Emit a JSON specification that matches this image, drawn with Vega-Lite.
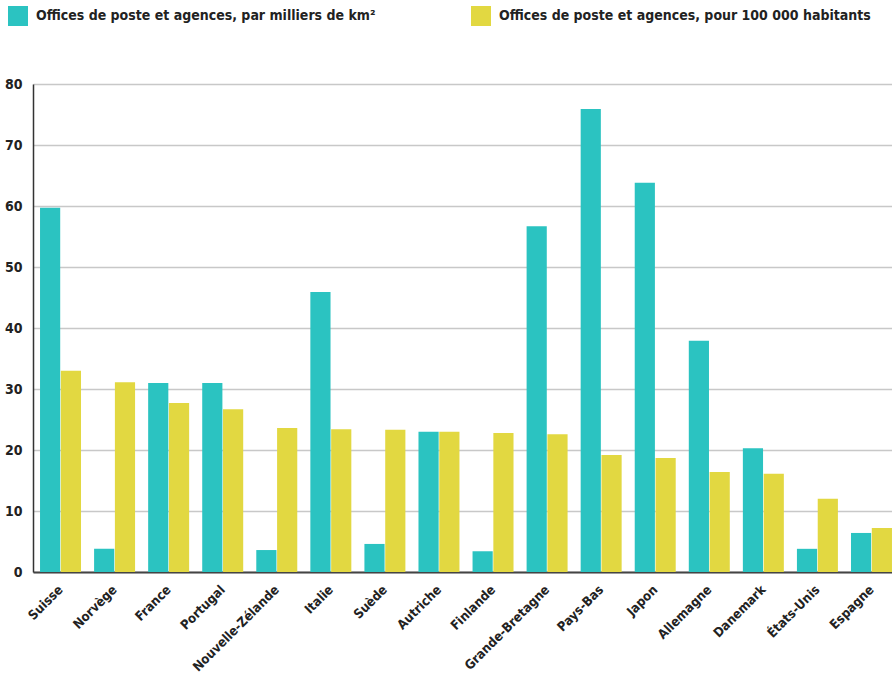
{
  "$schema": "https://vega.github.io/schema/vega-lite/v6.json",
  "width": 866,
  "height": 488,
  "autosize": {"type": "none"},
  "padding": {"left": 33, "top": 84, "right": 0, "bottom": 105},
  "background": "white",
  "config": {
    "view": {"stroke": null},
    "font": "DejaVu Sans Condensed"
  },
  "data": {
    "values": [
      {"pays": "Suisse", "serie": "Offices de poste et agences, par milliers de km²", "valeur": 59.7},
      {"pays": "Suisse", "serie": "Offices de poste et agences, pour 100 000 habitants", "valeur": 33.0},
      {"pays": "Norvège", "serie": "Offices de poste et agences, par milliers de km²", "valeur": 3.8},
      {"pays": "Norvège", "serie": "Offices de poste et agences, pour 100 000 habitants", "valeur": 31.1},
      {"pays": "France", "serie": "Offices de poste et agences, par milliers de km²", "valeur": 31.0},
      {"pays": "France", "serie": "Offices de poste et agences, pour 100 000 habitants", "valeur": 27.7},
      {"pays": "Portugal", "serie": "Offices de poste et agences, par milliers de km²", "valeur": 31.0},
      {"pays": "Portugal", "serie": "Offices de poste et agences, pour 100 000 habitants", "valeur": 26.7},
      {"pays": "Nouvelle-Zélande", "serie": "Offices de poste et agences, par milliers de km²", "valeur": 3.6},
      {"pays": "Nouvelle-Zélande", "serie": "Offices de poste et agences, pour 100 000 habitants", "valeur": 23.6},
      {"pays": "Italie", "serie": "Offices de poste et agences, par milliers de km²", "valeur": 45.9},
      {"pays": "Italie", "serie": "Offices de poste et agences, pour 100 000 habitants", "valeur": 23.4},
      {"pays": "Suède", "serie": "Offices de poste et agences, par milliers de km²", "valeur": 4.6},
      {"pays": "Suède", "serie": "Offices de poste et agences, pour 100 000 habitants", "valeur": 23.3},
      {"pays": "Autriche", "serie": "Offices de poste et agences, par milliers de km²", "valeur": 23.0},
      {"pays": "Autriche", "serie": "Offices de poste et agences, pour 100 000 habitants", "valeur": 23.0},
      {"pays": "Finlande", "serie": "Offices de poste et agences, par milliers de km²", "valeur": 3.4},
      {"pays": "Finlande", "serie": "Offices de poste et agences, pour 100 000 habitants", "valeur": 22.8},
      {"pays": "Grande-Bretagne", "serie": "Offices de poste et agences, par milliers de km²", "valeur": 56.7},
      {"pays": "Grande-Bretagne", "serie": "Offices de poste et agences, pour 100 000 habitants", "valeur": 22.6},
      {"pays": "Pays-Bas", "serie": "Offices de poste et agences, par milliers de km²", "valeur": 75.9},
      {"pays": "Pays-Bas", "serie": "Offices de poste et agences, pour 100 000 habitants", "valeur": 19.2},
      {"pays": "Japon", "serie": "Offices de poste et agences, par milliers de km²", "valeur": 63.8},
      {"pays": "Japon", "serie": "Offices de poste et agences, pour 100 000 habitants", "valeur": 18.7},
      {"pays": "Allemagne", "serie": "Offices de poste et agences, par milliers de km²", "valeur": 37.9},
      {"pays": "Allemagne", "serie": "Offices de poste et agences, pour 100 000 habitants", "valeur": 16.4},
      {"pays": "Danemark", "serie": "Offices de poste et agences, par milliers de km²", "valeur": 20.3},
      {"pays": "Danemark", "serie": "Offices de poste et agences, pour 100 000 habitants", "valeur": 16.1},
      {"pays": "États-Unis", "serie": "Offices de poste et agences, par milliers de km²", "valeur": 3.8},
      {"pays": "États-Unis", "serie": "Offices de poste et agences, pour 100 000 habitants", "valeur": 12.0},
      {"pays": "Espagne", "serie": "Offices de poste et agences, par milliers de km²", "valeur": 6.4},
      {"pays": "Espagne", "serie": "Offices de poste et agences, pour 100 000 habitants", "valeur": 7.2}
    ]
  },
  "mark": {"type": "bar"},
  "encoding": {
    "x": {
      "field": "pays",
      "type": "nominal",
      "sort": null,
      "scale": {"paddingInner": 0.242, "paddingOuter": 0.13},
      "axis": {
        "title": null,
        "labelAngle": -45,
        "labelFont": "DejaVu Sans Condensed",
        "labelFontWeight": "bold",
        "labelFontSize": 13,
        "labelColor": "#222222",
        "labelPadding": 11,
        "labelOffset": -4,
        "ticks": false,
        "domainColor": "#444444",
        "domainWidth": 2,
        "labelLimit": 200
      }
    },
    "xOffset": {
      "field": "serie",
      "type": "nominal",
      "scale": {"paddingInner": 0.03}
    },
    "y": {
      "field": "valeur",
      "type": "quantitative",
      "scale": {"domain": [0, 80], "nice": false},
      "axis": {
        "title": null,
        "values": [0, 10, 20, 30, 40, 50, 60, 70, 80],
        "ticks": false,
        "labelFont": "DejaVu Sans Condensed",
        "labelFontWeight": "bold",
        "labelFontSize": 14,
        "labelColor": "#222222",
        "labelPadding": 11,
        "domainColor": "#333333",
        "domainWidth": 1.5,
        "gridColor": "#c8c8c8",
        "gridWidth": 1.5,
        "encode": {"labels": {"update": {"dy": {"signal": "datum.value == 80 ? 4 : -4"}}}}
      }
    },
    "color": {
      "field": "serie",
      "type": "nominal",
      "scale": {"range": ["#2bc3c1", "#e2d841"]},
      "legend": {
        "title": null,
        "orient": "none",
        "direction": "horizontal",
        "legendX": -25,
        "legendY": -78,
        "symbolType": "square",
        "symbolSize": 400,
        "symbolStrokeWidth": 0,
        "symbolOpacity": 1,
        "labelFont": "DejaVu Sans Condensed",
        "labelFontWeight": "bold",
        "labelFontSize": 14,
        "labelColor": "#222222",
        "labelLimit": 500,
        "labelOffset": 8,
        "columnPadding": 95
      }
    }
  }
}
